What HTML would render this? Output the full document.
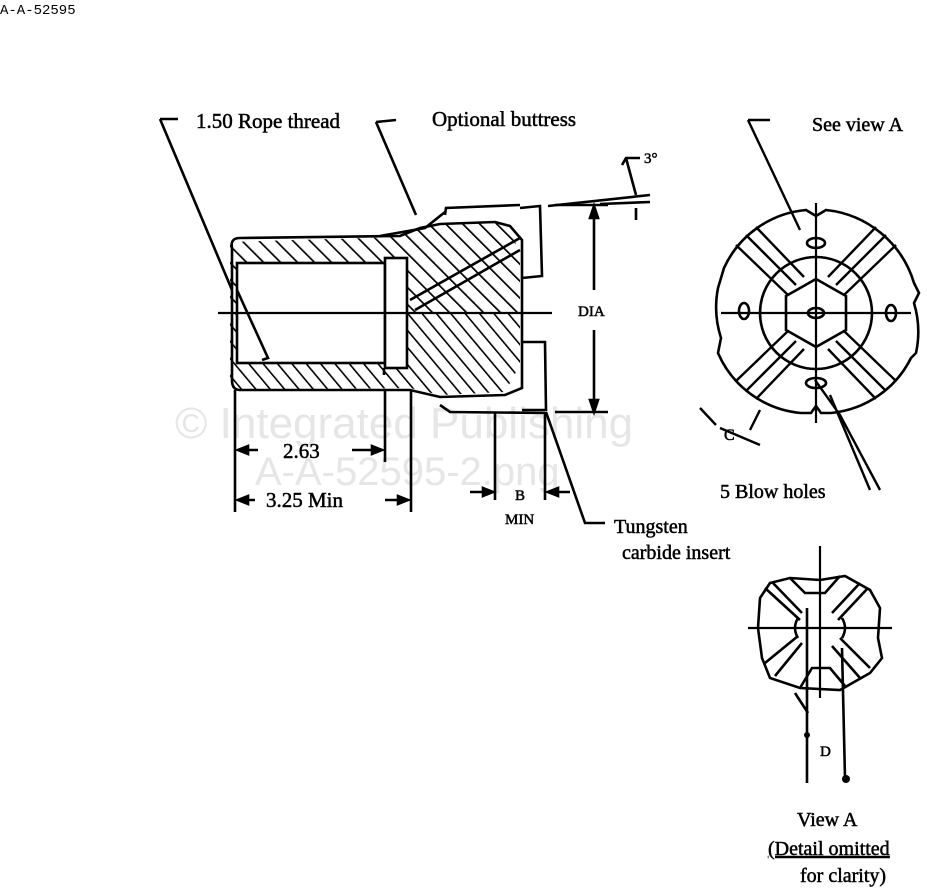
<!DOCTYPE html>
<html><head><meta charset="utf-8"><style>
html,body{margin:0;padding:0;background:#fff;width:927px;height:896px;overflow:hidden}
svg{display:block}
text{font-family:"Liberation Serif",serif;fill:#000}
.t{stroke:#000;stroke-width:0.5}
</style></head><body>
<svg width="927" height="896" viewBox="0 0 927 896" xmlns="http://www.w3.org/2000/svg">
<defs>
<pattern id="h" width="12" height="12" patternUnits="userSpaceOnUse" patternTransform="rotate(-45)">
<line x1="0" y1="0" x2="0" y2="12" stroke="#000" stroke-width="3.4"/>
</pattern>
<pattern id="h2" width="11" height="11" patternUnits="userSpaceOnUse" patternTransform="rotate(-40)">
<line x1="0" y1="0" x2="0" y2="11" stroke="#000" stroke-width="3.2"/>
</pattern>
</defs>
<text x="0" y="14" style="font-family:'Liberation Mono',monospace;font-size:14px">A-A-52595</text>

<text x="175" y="438" style="font-family:'Liberation Sans',sans-serif;font-size:44px;fill:#e6e6e6">© Integrated Publishing</text>
<text x="255" y="485" style="font-family:'Liberation Sans',sans-serif;font-size:40px;fill:#e6e6e6">A-A-52595-2.png</text>

<g stroke="#000" fill="none" stroke-width="2.6">
<!-- body hatched -->
<path d="M230 242 L400 237 L420 228 L440 224 L495 222 L512 228 L520 262 L520 313 L230 313 Z" fill="url(#h)" stroke="none"/>
<path d="M230 313 L520 313 L520 365 L505 392 L440 395 L410 388 L230 390 Z" fill="url(#h2)" stroke="none"/>
<rect x="237" y="263" width="170" height="100" fill="#fff" stroke="none"/>
<path d="M232 248 Q230 238 240 238 L400 236 L420 228 L440 224 L495 222 L510 226 L522 240 L522 388 L505 395 L440 397 L410 390 L240 390 Q232 390 232 380 Z"/>
<rect x="237" y="263" width="148" height="100"/>
<rect x="385" y="258" width="22" height="110" fill="#fff"/>
<path d="M410 300 L520 238 M415 310 L520 250"/>
<!-- insert steps -->
<path d="M520 208 L540 206 L542 276 L522 278"/>
<path d="M522 342 L545 342 L546 410 L522 410"/>
<path d="M445 215 L446 208 L520 205 M440 405 L450 412 L545 413"/>
<path d="M380 236 L425 228 L445 212"/>
<!-- top slope line -->
<path d="M548 206 L650 195 M600 204 L650 202"/>
<!-- centerline -->
<path d="M218 313 L552 313" stroke-width="2.2"/>
<!-- leaders -->
<path d="M160 119 L178 119 M160 119 L232 290"/>
<path d="M376 122 L396 120 M376 122 L416 215"/>
<path d="M237 290 L268 358 L262 360"/>
<!-- 3deg -->
<path d="M622 165 L626 158 L640 158 M626 158 L636 195 M636 208 L636 220"/>
<!-- DIA -->
<path d="M555 205 L608 205 M555 412 L608 412 M594 208 L594 290 M594 330 L594 410"/>
<path d="M590 218 L594 206 L598 218 Z M590 400 L594 412 L598 400 Z" fill="#000"/>
<!-- 2.63 / 3.25 -->
<path d="M235 390 L235 512 M385 390 L385 462 M411 390 L411 512 M384 368 L384 375"/>
<path d="M238 450 L258 450 M352 450 L382 450"/>
<path d="M238 500 L255 500 M385 500 L408 500"/>
<path d="M238 450 L248 446 L248 454 Z M382 450 L372 446 L372 454 Z M238 500 L248 496 L248 504 Z M408 500 L398 496 L398 504 Z" fill="#000"/>
<!-- B MIN -->
<path d="M495 412 L495 500 M545 412 L545 500 M470 492 L493 492 M548 492 L570 492"/>
<path d="M493 492 L483 488 L483 496 Z M548 492 L558 488 L558 496 Z" fill="#000"/>
<!-- tungsten leader -->
<path d="M546 412 L585 523 L605 523"/>
</g>
<text class="t" x="196" y="128" font-size="21">1.50 Rope thread</text>
<text class="t" x="432" y="126" font-size="21">Optional buttress</text>
<text class="t" x="644" y="163" font-size="15">3°</text>
<text class="t" x="578" y="316" font-size="15">DIA</text>
<text class="t" x="283" y="458" font-size="21">2.63</text>
<text class="t" x="266" y="507" font-size="21">3.25 Min</text>
<text class="t" x="515" y="500" font-size="15">B</text>
<text class="t" x="505" y="524" font-size="15">MIN</text>
<text class="t" x="614" y="533" font-size="20">Tungsten</text>
<text class="t" x="622" y="559" font-size="20">carbide insert</text>

<!-- End view -->
<g stroke="#000" fill="none" stroke-width="2.6" transform="translate(816,313)">
<path d="M-10 -103 L0 -97 L10 -103 A103 103 0 0 1 98 -30 L103 -20 L98 -10 A100 100 0 0 1 100 40 L95 45 A100 100 0 0 1 15 100 L5 100 L0 93 L-5 100 L-15 100 A100 100 0 0 1 -98 40 L-95 25 A100 100 0 0 1 -98 -25 L-92 -45 A100 100 0 0 1 -10 -103 Z"/>
<circle r="56"/>
<polygon points="0,-34 30,-17 30,17 0,34 -30,17 -30,-17"/>
<g stroke-width="2.4">
<path d="M-70 -78 L-20 -28 M-80 -68 L-28 -18 M-60 -86 L-12 -36"/>
<path d="M70 -78 L20 -28 M80 -68 L28 -18 M60 -86 L12 -36"/>
<path d="M-70 78 L-20 28 M-80 68 L-28 18 M-60 86 L-12 36"/>
<path d="M70 78 L20 28 M80 68 L28 18 M60 86 L12 36"/>
</g>
<path d="M-95 0 L95 0 M0 -110 L0 110" stroke-width="2.2"/>
<ellipse cx="0" cy="-70" rx="9" ry="5"/>
<ellipse cx="0" cy="70" rx="10" ry="5"/>
<ellipse cx="0" cy="0" rx="8" ry="5"/>
<ellipse cx="-72" cy="-2" rx="5" ry="8"/>
<ellipse cx="75" cy="0" rx="5" ry="8"/>
</g>
<g stroke="#000" fill="none" stroke-width="2.4">
<path d="M748 120 L770 120 M748 120 L800 230"/>
<path d="M700 408 L716 425 M750 430 L760 410 M720 428 L760 445"/>
<path d="M815 380 L840 415 L880 490 M830 395 L870 490"/>
</g>
<text class="t" x="812" y="131" font-size="20">See view A</text>
<text class="t" x="724" y="440" font-size="16">C</text>
<text class="t" x="720" y="498" font-size="20">5 Blow holes</text>

<!-- View A -->
<g stroke="#000" fill="none" stroke-width="2.6" transform="translate(820,628)">
<path d="M-30 -50 L0 -48 L25 -52 L50 -38 L60 -20 L58 10 L62 30 L50 45 L20 62 L-20 60 L-50 50 L-58 30 L-62 0 L-60 -30 L-50 -45 Z"/>
<path d="M-55 -40 L-20 -8 M-48 -46 L-18 -15 M-30 -50 L-15 -35 L5 -35 L20 -52 M40 -45 L12 -15 M48 -40 L18 -8"/>
<path d="M-55 35 L-22 8 M-45 48 L-18 15 M-20 60 L-8 40 L10 40 L25 58 M40 50 L12 18 M50 40 L20 10"/>
<path d="M-22 -10 Q-28 0 -22 10 M22 -10 Q28 0 22 10"/>
<path d="M-72 0 L72 0 M0 -82 L0 70" stroke-width="2.2"/>
<path d="M-13 -20 L-13 155 M22 20 L25 150"/>
<path d="M-25 65 L-12 85"/>
</g>
<circle cx="807" cy="735" r="3" fill="#000"/>
<circle cx="846" cy="779" r="4" fill="#000"/>
<text class="t" x="820" y="756" font-size="15">D</text>
<text class="t" x="797" y="826" font-size="20">View A</text>
<text class="t" x="768" y="855" font-size="20" text-decoration="underline">(Detail omitted</text>
<text class="t" x="800" y="882" font-size="20">for clarity)</text>
</svg>
</body></html>
